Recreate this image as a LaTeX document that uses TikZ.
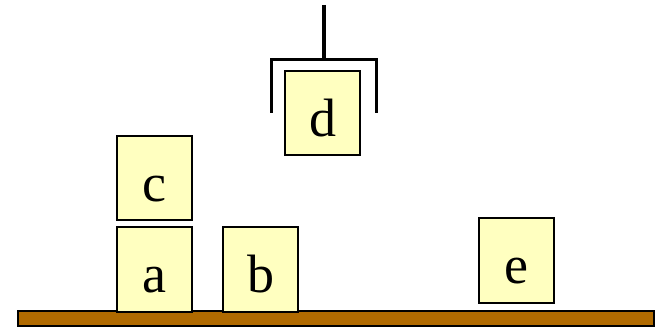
\documentclass[tikz,border=0pt]{standalone}
\usepackage{fontspec}
\setmainfont{Liberation Serif}
\usetikzlibrary{positioning}
\definecolor{blockfill}{RGB}{255,255,192}
\definecolor{tablebrown}{RGB}{176,106,0}
\tikzset{
    block/.style={draw=black, line width=2pt, fill=blockfill,
        minimum width=75pt, minimum height=84pt, inner sep=0pt,
        font=\fontsize{54}{54}\selectfont, text height=46pt, text depth=0pt},
    grip/.style={line width=3.5pt, line join=miter}
}
\begin{document}
\begin{tikzpicture}[x=1pt, y=-1pt]
\useasboundingbox (0,0) rectangle (660,328);

% === table ===
\draw[line width=2pt, fill=tablebrown] (18,311) rectangle (654,326);

% === blocks ===
\node[block] (a) at (154.5,269.5) {a};
\node[block, above=5pt of a] (c) {c};
\node[block] (b) at (260.5,269.5) {b};
\node[block] (e) at (516,260.5) {e};
\node[block] (d) at (322.5,113.5) {d};

% === gripper ===
\draw[grip] (324,5) -- (324,59.5);
\draw[grip] (271.5,113) -- (271.5,59.5) -- (376.5,59.5) -- (376.5,113);

\end{tikzpicture}
\end{document}
